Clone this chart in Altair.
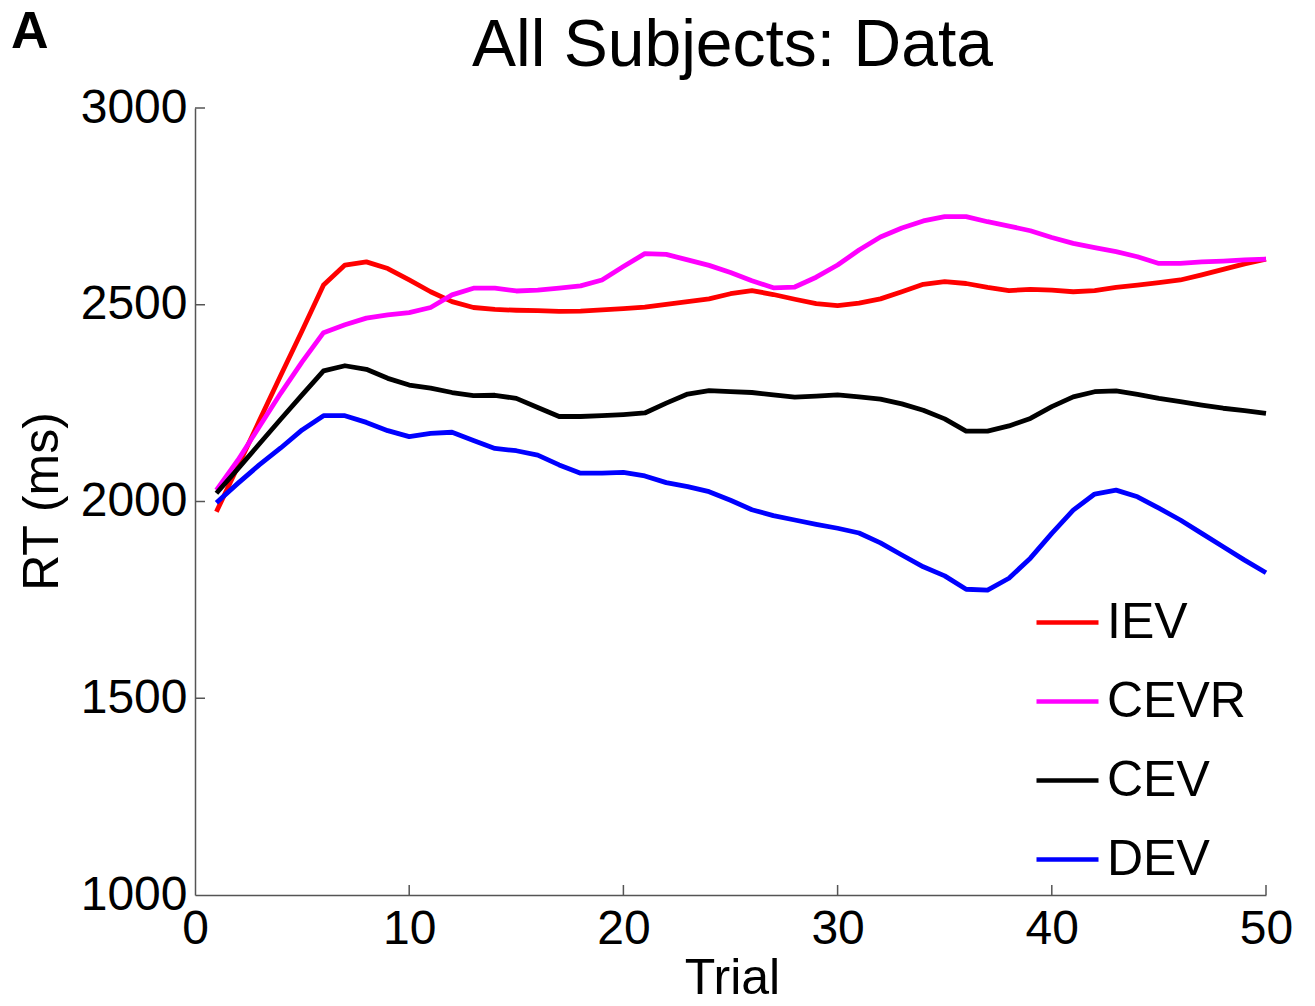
import altair as alt
import pandas as pd

# ---- data ----
trials = list(range(1, 51))
iev = [1974, 2089, 2205, 2320, 2434, 2550, 2601, 2609, 2592, 2563,
       2533, 2508, 2493, 2488, 2486, 2485, 2483, 2484, 2487, 2490,
       2494, 2501, 2508, 2515, 2528, 2536, 2526, 2514, 2503, 2498,
       2504, 2515, 2533, 2552, 2559, 2554, 2544, 2536, 2539, 2537,
       2533, 2536, 2544, 2550, 2556, 2563, 2576, 2590, 2604, 2616]
cevr = [2029, 2105, 2190, 2275, 2355, 2429, 2449, 2466, 2474, 2480,
        2493, 2525, 2542, 2542, 2535, 2537, 2542, 2548, 2563, 2597,
        2630, 2628, 2614, 2600, 2582, 2561, 2543, 2545, 2570, 2601,
        2639, 2672, 2695, 2713, 2724, 2724, 2711, 2700, 2688, 2671,
        2656, 2645, 2635, 2622, 2605, 2605, 2609, 2611, 2614, 2616]
cev = [2021, 2083, 2146, 2209, 2271, 2332, 2345, 2336, 2313, 2296,
       2288, 2277, 2269, 2270, 2262, 2239, 2216, 2216, 2218, 2221,
       2225, 2250, 2273, 2282, 2279, 2277, 2271, 2265, 2268, 2271,
       2266, 2260, 2248, 2232, 2210, 2179, 2179, 2192, 2211, 2241,
       2266, 2279, 2281, 2272, 2262, 2254, 2245, 2237, 2231, 2224]
dev = [1997, 2046, 2093, 2136, 2182, 2218, 2218, 2201, 2180, 2165,
       2173, 2176, 2155, 2135, 2129, 2118, 2093, 2072, 2072, 2074,
       2065, 2048, 2038, 2025, 2003, 1979, 1964, 1953, 1942, 1932,
       1920, 1895, 1864, 1834, 1811, 1777, 1775, 1805, 1856, 1919,
       1978, 2019, 2029, 2012, 1983, 1953, 1919, 1885, 1851, 1819]

series_names = ["IEV", "CEVR", "CEV", "DEV"]
series_colors = ["#ff0000", "#ff00ff", "#000000", "#0000ff"]
series_values = [iev, cevr, cev, dev]

x_tick_values = [0, 10, 20, 30, 40, 50]
y_tick_values = [1000, 1500, 2000, 2500, 3000]
x_inner_ticks = [10, 20, 30, 40, 50]
y_inner_ticks = [1500, 2000, 2500, 3000]

title_text = "All Subjects: Data"
panel_label = "A"

# ---- build table ----
rows = []
for name, vals in zip(series_names, series_values):
    for t, v in zip(trials, vals):
        rows.append({"Trial": t, "RT": v, "Series": name})
df = pd.DataFrame(rows)

W, H = 1071, 787
FONT = "Liberation Sans"
AXIS_COLOR = "#555555"

x_scale = alt.Scale(domain=[0, 50], nice=False, zero=False)
y_scale = alt.Scale(domain=[1000, 3000], nice=False, zero=False)

common_axis = dict(grid=False, ticks=False, domainColor=AXIS_COLOR,
                   domainWidth=1.5, labelFont=FONT, labelFontSize=48,
                   labelColor="black", titleFont=FONT, titleFontSize=50,
                   titleFontWeight="normal", titleColor="black",
                   labelFlush=False, labelOverlap=False, format="d")

x_axis = alt.Axis(values=x_tick_values, title="Trial",
                  labelPadding=10, titleX=537, titleY=98,
                  titleBaseline="alphabetic", **common_axis)
y_axis = alt.Axis(values=y_tick_values, title="RT (ms)",
                  labelPadding=8, titleX=-153, titleY=393,
                  titleAngle=-90, titleBaseline="middle", **common_axis)

lines = alt.Chart(df).mark_line(strokeWidth=4.8, strokeJoin="round").encode(
    x=alt.X("Trial:Q", scale=x_scale, axis=x_axis),
    y=alt.Y("RT:Q", scale=y_scale, axis=y_axis),
    color=alt.Color("Series:N",
                    scale=alt.Scale(domain=series_names, range=series_colors),
                    legend=alt.Legend(title=None, orient="none",
                                      legendX=839, legendY=481,
                                      symbolType="stroke", symbolSize=3844,
                                      symbolStrokeWidth=4.5,
                                      labelFontSize=50, labelFont=FONT,
                                      labelColor="black", labelOffset=6,
                                      rowPadding=20, padding=0)),
    order=alt.Order("Trial:Q"),
)

xt = alt.Chart(pd.DataFrame({"Trial": x_inner_ticks})).mark_rule(
    color=AXIS_COLOR, strokeWidth=1.5).encode(
    x=alt.X("Trial:Q", scale=x_scale, axis=x_axis),
    y=alt.value(H), y2=alt.value(H - 10))

yt = alt.Chart(pd.DataFrame({"RT": y_inner_ticks})).mark_rule(
    color=AXIS_COLOR, strokeWidth=1.5).encode(
    y=alt.Y("RT:Q", scale=y_scale, axis=y_axis),
    x=alt.value(0), x2=alt.value(10))

label = alt.Chart(pd.DataFrame({"t": [panel_label]})).mark_text(
    font=FONT, fontSize=52, fontWeight="bold", align="left",
    baseline="alphabetic", color="black").encode(
    x=alt.value(-184), y=alt.value(-60), text="t:N")

title = alt.Chart(pd.DataFrame({"t": [title_text]})).mark_text(
    font=FONT, fontSize=66, align="center",
    baseline="alphabetic", color="black").encode(
    x=alt.value(W / 2 + 2), y=alt.value(-42), text="t:N")

chart = alt.layer(lines, xt, yt, label, title).properties(
    width=W, height=H,
    background="white",
    autosize=alt.AutoSizeParams(type="none"),
    padding={"left": 195, "top": 108, "right": 49, "bottom": 111},
).configure_view(strokeWidth=0)

chart.save("out.html", embed_options={"renderer": "svg", "actions": False})
